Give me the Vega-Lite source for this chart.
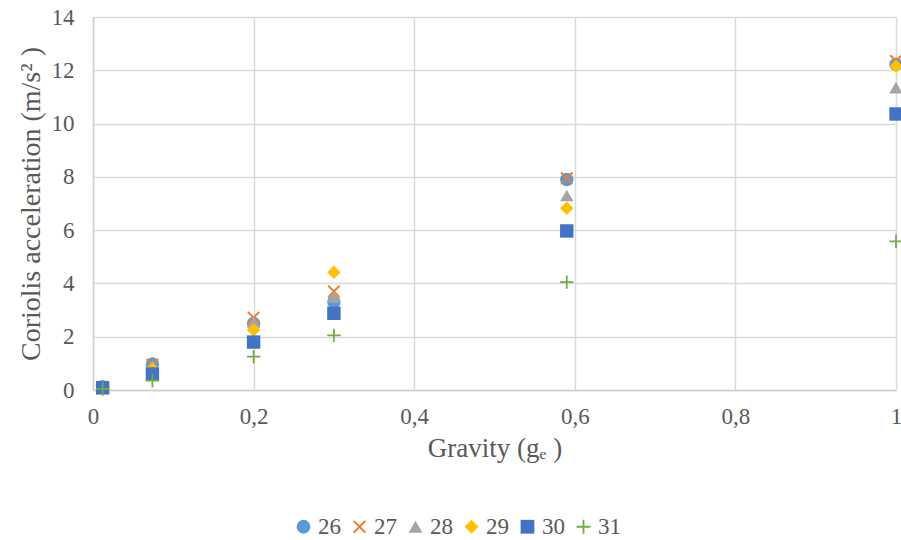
{
  "$schema": "https://vega.github.io/schema/vega-lite/v6.json",
  "width": 803,
  "height": 373,
  "autosize": {"type": "none"},
  "padding": {"left": 93, "top": 17, "right": 5, "bottom": 150},
  "background": "white",
  "data": {
    "values": [
      {"g": 0.012, "a": 0.12, "s": "26"},
      {"g": 0.074, "a": 0.98, "s": "26"},
      {"g": 0.2, "a": 2.5, "s": "26"},
      {"g": 0.3, "a": 3.3, "s": "26"},
      {"g": 0.59, "a": 7.9, "s": "26"},
      {"g": 1.0, "a": 12.22, "s": "26"},
      {"g": 0.012, "a": 0.12, "s": "27"},
      {"g": 0.074, "a": 0.95, "s": "27"},
      {"g": 0.2, "a": 2.72, "s": "27"},
      {"g": 0.3, "a": 3.7, "s": "27"},
      {"g": 0.59, "a": 7.95, "s": "27"},
      {"g": 1.0, "a": 12.35, "s": "27"},
      {"g": 0.012, "a": 0.1, "s": "28"},
      {"g": 0.074, "a": 0.9, "s": "28"},
      {"g": 0.2, "a": 2.55, "s": "28"},
      {"g": 0.3, "a": 3.5, "s": "28"},
      {"g": 0.59, "a": 7.3, "s": "28"},
      {"g": 1.0, "a": 11.35, "s": "28"},
      {"g": 0.012, "a": 0.1, "s": "29"},
      {"g": 0.074, "a": 0.8, "s": "29"},
      {"g": 0.2, "a": 2.25, "s": "29"},
      {"g": 0.3, "a": 4.42, "s": "29"},
      {"g": 0.59, "a": 6.82, "s": "29"},
      {"g": 1.0, "a": 12.15, "s": "29"},
      {"g": 0.012, "a": 0.08, "s": "30"},
      {"g": 0.074, "a": 0.6, "s": "30"},
      {"g": 0.2, "a": 1.8, "s": "30"},
      {"g": 0.3, "a": 2.88, "s": "30"},
      {"g": 0.59, "a": 5.97, "s": "30"},
      {"g": 1.0, "a": 10.36, "s": "30"},
      {"g": 0.012, "a": 0.04, "s": "31"},
      {"g": 0.074, "a": 0.35, "s": "31"},
      {"g": 0.2, "a": 1.25, "s": "31"},
      {"g": 0.3, "a": 2.05, "s": "31"},
      {"g": 0.59, "a": 4.05, "s": "31"},
      {"g": 1.0, "a": 5.58, "s": "31"}
    ]
  },
  "mark": {"type": "point", "filled": true, "opacity": 1, "size": 180, "clip": false},
  "encoding": {
    "x": {
      "field": "g",
      "type": "quantitative",
      "title": "Gravity (gₑ )",
      "scale": {"domain": [0, 1], "nice": false, "zero": false},
      "axis": {
        "values": [0, 0.2, 0.4, 0.6, 0.8, 1],
        "labelExpr": "replace(format(datum.value, '~g'), '.', ',')",
        "labelFlush": false,
        "labelPadding": 15,
        "titlePadding": 7,
        "titleFontSize": 27
      }
    },
    "y": {
      "field": "a",
      "type": "quantitative",
      "title": "Coriolis acceleration (m/s² )",
      "scale": {"domain": [0, 14], "nice": false},
      "axis": {
        "values": [0, 2, 4, 6, 8, 10, 12, 14],
        "labelPadding": 19,
        "titlePadding": 6,
        "titleFontSize": 28
      }
    },
    "color": {
      "field": "s",
      "type": "nominal",
      "scale": {
        "domain": ["26", "27", "28", "29", "30", "31"],
        "range": ["#5B9BD5", "#ED7D31", "#A5A5A5", "#FFC000", "#4472C4", "#70AD47"]
      },
      "legend": {
        "title": null,
        "orient": "none",
        "direction": "horizontal",
        "legendX": 199,
        "legendY": 498
      }
    },
    "shape": {
      "field": "s",
      "type": "nominal",
      "scale": {
        "domain": ["26", "27", "28", "29", "30", "31"],
        "range": [
          "circle",
          "M-0.748,-0.952L0,-0.204L0.748,-0.952L0.952,-0.748L0.204,0L0.952,0.748L0.748,0.952L0,0.204L-0.748,0.952L-0.952,0.748L-0.204,0L-0.952,-0.748Z",
          "triangle-up",
          "diamond",
          "square",
          "M-1,-0.13L-0.13,-0.13L-0.13,-1L0.13,-1L0.13,-0.13L1,-0.13L1,0.13L0.13,0.13L0.13,1L-0.13,1L-0.13,0.13L-1,0.13Z"
        ]
      },
      "legend": {
        "title": null,
        "orient": "none",
        "direction": "horizontal",
        "legendX": 199,
        "legendY": 498
      }
    },
    "order": {"field": "s", "type": "nominal"}
  },
  "config": {
    "font": "Liberation Serif",
    "view": {"stroke": null},
    "axis": {
      "labelFont": "Liberation Serif",
      "titleFont": "Liberation Serif",
      "labelFontSize": 23,
      "labelColor": "#595959",
      "titleColor": "#595959",
      "titleFontWeight": "normal",
      "gridColor": "#d9d9d9",
      "gridWidth": 1.5,
      "domainColor": "#d0d0d0",
      "domainWidth": 1.5,
      "ticks": false
    },
    "axisX": {"grid": true, "labelAngle": 0},
    "axisY": {"grid": true},
    "legend": {
      "labelFont": "Liberation Serif",
      "labelFontSize": 23,
      "labelColor": "#595959",
      "symbolSize": 190,
      "symbolOpacity": 1,
      "labelOffset": 3,
      "columnPadding": 7
    }
  }
}
